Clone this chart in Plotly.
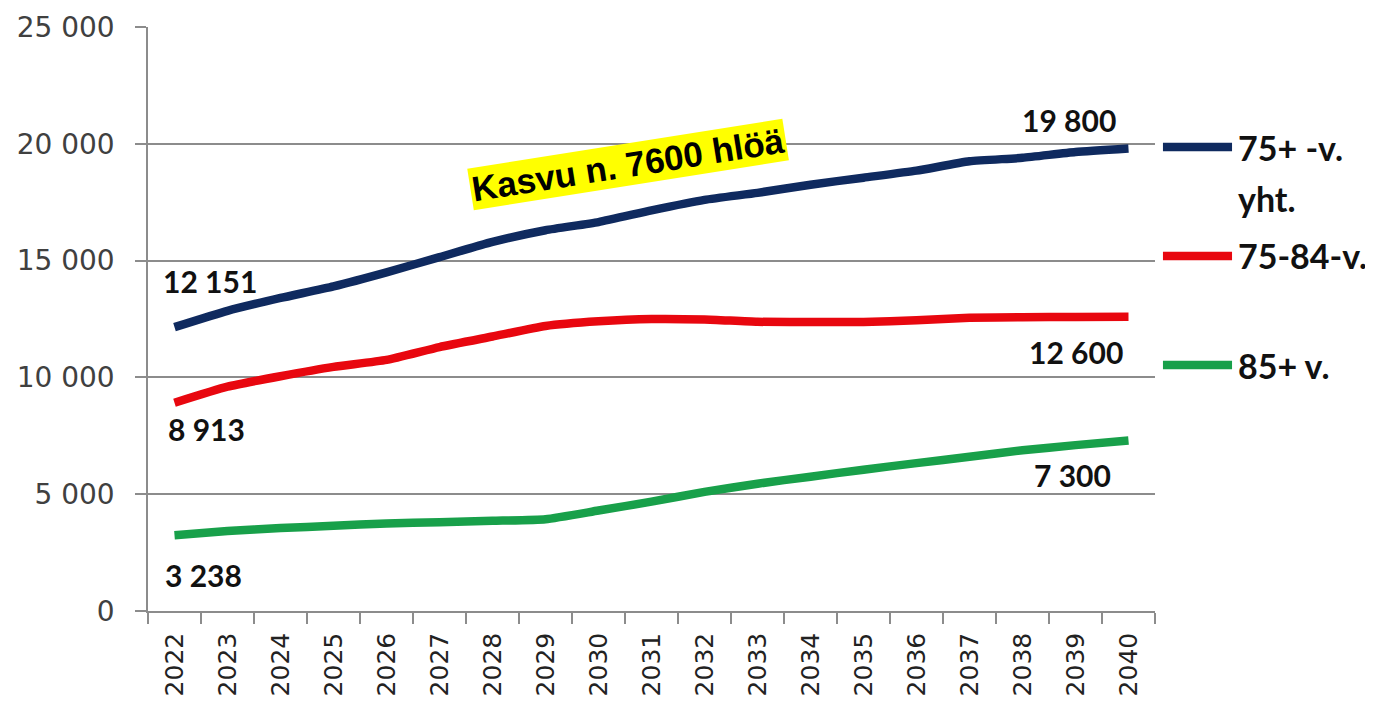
import plotly.graph_objects as go

years = [str(y) for y in range(2022, 2041)]
total_75 = [12151, 12850, 13400, 13900, 14500, 15150, 15800, 16300, 16650, 17150,
            17600, 17900, 18250, 18550, 18850, 19250, 19400, 19650, 19800]
age_75_84 = [8913, 9600, 10050, 10450, 10750, 11300, 11750, 12200, 12400, 12500,
             12480, 12380, 12370, 12370, 12450, 12550, 12580, 12590, 12600]
age_85 = [3238, 3420, 3550, 3650, 3750, 3800, 3860, 3930, 4300, 4680,
          5100, 5450, 5750, 6050, 6330, 6600, 6880, 7100, 7300]

series_names = ["75+ -v. yht.", "75-84-v.", "85+ v."]
series_vals = [total_75, age_75_84, age_85]
colors = ["#0F2A5F", "#E8070F", "#18A04A"]

fig = go.Figure()
for name, vals, c in zip(series_names, series_vals, colors):
    fig.add_trace(go.Scatter(x=years, y=vals, mode="lines", name=name,
                             line=dict(color=c, width=8.5, shape="spline", smoothing=0.5),
                             showlegend=False))

label_font = dict(family="Lato, Carlito, Arial", size=30, color="#111111")
last = len(years) - 1
first_last = [
    (0, total_75[0], "12 151", 35, 46),
    (0, age_75_84[0], "8 913", 32, -26),
    (0, age_85[0], "3 238", 29, -40),
    (last, total_75[-1], "19 800", -60, 28),
    (last, age_75_84[-1], "12 600", -53, -35),
    (last, age_85[-1], "7 300", -56, -35),
]
for x, y, t, xs, ys in first_last:
    fig.add_annotation(x=x, y=y, text="<b>" + t + "</b>", showarrow=False,
                       xanchor="center", yanchor="middle",
                       xshift=xs, yshift=ys, font=label_font)

# growth annotation
fig.add_annotation(xref="paper", yref="paper", x=0.4767, y=0.7654,
                   xanchor="center", yanchor="middle",
                   text="<b>Kasvu n. 7600 hlöä</b>", showarrow=False, textangle=-9,
                   bgcolor="#FFFF00", borderpad=1,
                   font=dict(family="Liberation Sans, Arial", size=35, color="#000000"))

# legend (manual)
leg_y = [0.7945, 0.6079, 0.4212]
for yy, c in zip(leg_y, colors):
    fig.add_shape(type="line", xref="paper", yref="paper", x0=1.0079, x1=1.0765,
                  y0=yy, y1=yy, line=dict(color=c, width=8.5))
leg_font = dict(family="Lato, Carlito, Arial", size=34, color="#111111")
leg_texts = [("75+ -v.", 0.7945), ("yht.", 0.7055), ("75-84-v.", 0.6079), ("85+ v.", 0.4212)]
for t, yy in leg_texts:
    fig.add_annotation(xref="paper", yref="paper", x=1.0805, y=yy, xanchor="left",
                       yanchor="middle", text="<b>" + t + "</b>", showarrow=False,
                       font=leg_font)

fig.update_layout(
    width=1365, height=695,
    margin=dict(l=140, r=218, t=19, b=92),
    paper_bgcolor="white", plot_bgcolor="white",
    separators=", ",
    xaxis=dict(type="category", range=[-0.5, 18.5], tickson="boundaries",
               ticks="outside", ticklen=11, tickcolor="#8C8C8C", tickwidth=1.5,
               tickangle=-90, showgrid=False, showline=True, linecolor="#8C8C8C",
               linewidth=1.5, ticklabelstandoff=10, automargin=False,
               tickfont=dict(family="DejaVu Sans, Verdana", size=25, color="#222222")),
    yaxis=dict(range=[0, 25000], dtick=5000, tickformat=",d", ticks="outside",
               ticklen=11, tickcolor="#8C8C8C", tickwidth=1.5, showline=True,
               linecolor="#8C8C8C", linewidth=1.5, gridcolor="#8C8C8C", gridwidth=1.5,
               zeroline=False, ticklabelstandoff=15, automargin=False,
               tickfont=dict(family="DejaVu Sans, Verdana", size=28, color="#404040")),
)

fig.write_html("out.html")
